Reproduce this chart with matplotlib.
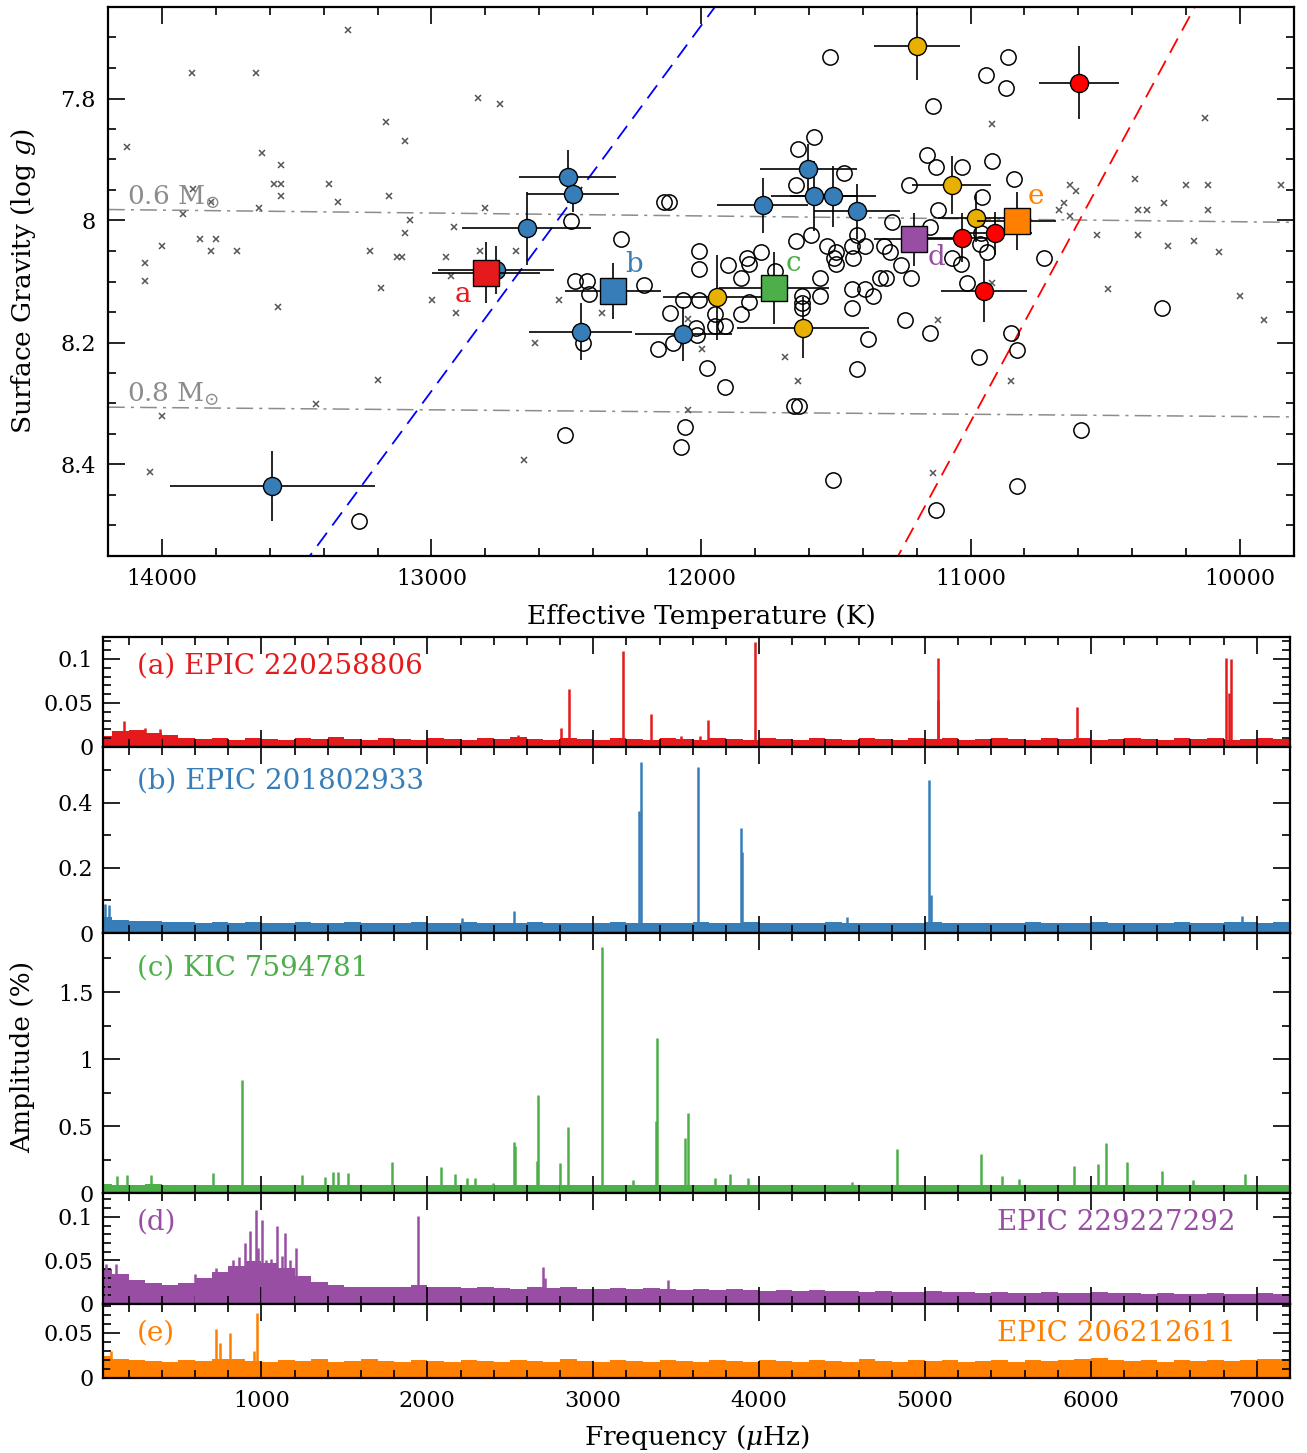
import numpy as np
import matplotlib
matplotlib.use("Agg")
import matplotlib.pyplot as plt
from matplotlib.ticker import MultipleLocator, FuncFormatter

plt.rcParams['font.family'] = ['DejaVu Serif']
plt.rcParams['mathtext.fontset'] = 'dejavuserif'

# ---------------- top panel: Teff / log g ----------------
gray_teff = [13309, 13890, 13650, 12829, 12746, 13169, 13099, 14130, 13629, 13560,
             13583, 13560, 13379, 13560, 13157, 13883, 13819, 13347, 13640, 12800,
             13921, 13079, 12917, 13099, 13859, 13800, 14001, 13819, 13721, 13229,
             12819, 12687, 14061, 12947, 13129, 13109, 14061, 12929, 13187, 12997,
             12909, 12527, 12367, 12617, 13570, 13199, 13430, 14001, 14043, 12657,
             12047, 12047, 11997, 10919, 10130, 10391, 10630, 10610, 10201, 10120,
             9850, 10652, 10672, 10630, 10378, 10347, 10281, 10120, 10530, 10378,
             10269, 10170, 10080, 10490, 10000, 9910, 10919, 11120, 11690, 11640,
             10851, 11141]
gray_logg = [7.688, 7.759, 7.759, 7.799, 7.809, 7.839, 7.869, 7.879, 7.889, 7.909,
             7.940, 7.940, 7.940, 7.960, 7.960, 7.948, 7.969, 7.970, 7.979, 7.980,
             7.990, 8.000, 8.011, 8.021, 8.031, 8.031, 8.041, 8.050, 8.050, 8.050,
             8.050, 8.050, 8.070, 8.060, 8.060, 8.060, 8.100, 8.091, 8.110, 8.131,
             8.151, 8.131, 8.151, 8.201, 8.141, 8.261, 8.301, 8.321, 8.412, 8.392,
             8.161, 8.311, 8.211, 7.842, 7.832, 7.932, 7.942, 7.952, 7.942, 7.942,
             7.942, 7.972, 7.982, 7.992, 7.982, 7.982, 7.972, 7.982, 8.023, 8.023,
             8.042, 8.033, 8.052, 8.112, 8.123, 8.163, 8.102, 8.163, 8.223, 8.263,
             8.263, 8.414]

open_teff = [13269, 12504, 12137, 12119, 12483, 12297, 12469, 12423, 12414, 12211,
             12009, 12009, 12066, 12009, 12114, 12019, 12014, 12159, 12061, 12076,
             11976, 12437, 12104, 11521, 10860, 10942, 10869, 11141, 11580, 11640,
             11470, 11649, 11161, 11129, 11032, 10922, 10840, 11229, 10958, 11120,
             11290, 11151, 10961, 10729, 11591, 11421, 11649, 11532, 11439, 11390,
             11320, 11498, 11506, 11498, 11436, 11297, 11259, 11220, 11069, 11035,
             10939, 10964, 11012, 11900, 11830, 11822, 11779, 11850, 11727, 11560,
             11560, 11625, 11625, 11625, 11439, 11390, 11362, 11439, 11336, 11313,
             11822, 11850, 11949, 11949, 11912, 11912, 11656, 11637, 11382, 11421,
             11242, 11151, 10849, 10829, 10970, 11510, 10829, 11130, 10590, 10290]
open_logg = [8.492, 8.351, 7.970, 7.970, 8.001, 8.031, 8.100, 8.100, 8.121, 8.106,
             8.050, 8.079, 8.131, 8.131, 8.151, 8.176, 8.187, 8.211, 8.339, 8.371,
             8.241, 8.201, 8.201, 7.732, 7.732, 7.762, 7.782, 7.812, 7.863, 7.882,
             7.922, 7.942, 7.892, 7.912, 7.912, 7.902, 7.932, 7.942, 7.961, 7.982,
             8.002, 8.011, 8.020, 8.062, 8.023, 8.023, 8.033, 8.042, 8.042, 8.042,
             8.042, 8.052, 8.061, 8.072, 8.062, 8.052, 8.073, 8.094, 8.061, 8.072,
             8.052, 8.038, 8.102, 8.073, 8.062, 8.072, 8.052, 8.094, 8.082, 8.094,
             8.123, 8.123, 8.135, 8.144, 8.112, 8.112, 8.123, 8.144, 8.094, 8.094,
             8.133, 8.153, 8.153, 8.173, 8.173, 8.273, 8.304, 8.304, 8.194, 8.244,
             8.163, 8.184, 8.184, 8.213, 8.224, 8.425, 8.435, 8.474, 8.344, 8.144]

blue_teff = [13590, 12494, 12476, 12647, 12759, 12447, 12066, 11771, 11602, 11580, 11510, 11421]
blue_logg = [8.435, 7.928, 7.956, 8.013, 8.081, 8.182, 8.186, 7.975, 7.915, 7.960, 7.960, 7.985]
blue_terr = [380, 180, 170, 240, 215, 190, 180, 168, 180, 160, 160, 160]
blue_gerr = [0.057, 0.043, 0.030, 0.060, 0.040, 0.047, 0.045, 0.045, 0.040, 0.057, 0.050, 0.045]

gold_teff = [11200, 11070, 10981, 11941, 11622]
gold_logg = [7.714, 7.942, 7.996, 8.126, 8.176]
gold_terr = [160, 147, 140, 200, 245]
gold_gerr = [0.055, 0.047, 0.040, 0.070, 0.050]

red_teff = [10599, 11030, 10911, 10950]
red_logg = [7.774, 8.028, 8.021, 8.116]
red_terr = [148, 150, 140, 158]
red_gerr = [0.060, 0.040, 0.035, 0.051]

sq_teff = [12797, 12326, 11730, 11211, 10829]
sq_logg = [8.086, 8.115, 8.110, 8.031, 8.001]
sq_terr = [200, 178, 205, 147, 147]
sq_gerr = [0.050, 0.046, 0.059, 0.043, 0.047]
sq_names = ['a', 'b', 'c', 'd', 'e']
sq_colors = ['#e41a1c', '#377eb8', '#4daf4a', '#984ea3', '#ff7f00']
sq_lab_teff = [12883, 12247, 11656, 11127, 10757]
sq_lab_logg = [8.121, 8.072, 8.070, 8.061, 7.960]

blue_edge_teff = [13535, 11865]
blue_edge_logg = [8.60, 7.60]
red_edge_teff = [11330, 10107]
red_edge_logg = [8.60, 7.60]
track_teff = [14200, 9800]
track06_logg = [7.982, 8.003]
track08_logg = [8.306, 8.322]

# ---------------- bottom panels: periodograms ----------------
# noise floor in 100 muHz bins (edges 0, 100, ..., 7200)
noise_edges = np.arange(0, 7300, 100)
a_noise = [0.013, 0.018, 0.019, 0.016, 0.014, 0.010, 0.009, 0.010, 0.008, 0.010,
           0.009, 0.008, 0.010, 0.009, 0.011, 0.009, 0.008, 0.010, 0.009, 0.008,
           0.010, 0.009, 0.008, 0.010, 0.009, 0.011, 0.009, 0.008, 0.010, 0.009,
           0.008, 0.010, 0.009, 0.008, 0.010, 0.009, 0.008, 0.010, 0.009, 0.008,
           0.010, 0.009, 0.008, 0.010, 0.009, 0.008, 0.010, 0.009, 0.008, 0.010,
           0.009, 0.010, 0.008, 0.009, 0.010, 0.009, 0.008, 0.010, 0.009, 0.010,
           0.008, 0.009, 0.010, 0.009, 0.008, 0.010, 0.009, 0.010, 0.008, 0.009,
           0.010, 0.009]
b_noise = [0.050, 0.040, 0.037, 0.036, 0.034, 0.034, 0.032, 0.034, 0.031, 0.033,
           0.031, 0.032, 0.034, 0.031, 0.030, 0.033, 0.032, 0.030, 0.032, 0.033,
           0.030, 0.032, 0.034, 0.031, 0.032, 0.030, 0.033, 0.032, 0.030, 0.032,
           0.030, 0.033, 0.032, 0.030, 0.032, 0.031, 0.033, 0.030, 0.031, 0.033,
           0.030, 0.032, 0.031, 0.030, 0.033, 0.031, 0.030, 0.032, 0.031, 0.030,
           0.033, 0.031, 0.030, 0.032, 0.031, 0.030, 0.033, 0.031, 0.032, 0.030,
           0.033, 0.031, 0.030, 0.032, 0.031, 0.033, 0.030, 0.031, 0.033, 0.034,
           0.032, 0.033]
c_noise = [0.068, 0.065, 0.063, 0.066, 0.062, 0.064, 0.061, 0.063, 0.064, 0.060,
           0.063, 0.061, 0.060, 0.063, 0.064, 0.061, 0.060, 0.063, 0.062, 0.060,
           0.064, 0.060, 0.062, 0.061, 0.063, 0.060, 0.061, 0.063, 0.060, 0.061,
           0.063, 0.060, 0.061, 0.063, 0.060, 0.059, 0.062, 0.061, 0.059, 0.062,
           0.059, 0.061, 0.060, 0.059, 0.062, 0.060, 0.059, 0.062, 0.060, 0.059,
           0.062, 0.059, 0.060, 0.062, 0.059, 0.060, 0.062, 0.059, 0.060, 0.062,
           0.059, 0.060, 0.062, 0.059, 0.060, 0.062, 0.059, 0.060, 0.062, 0.059,
           0.060, 0.062]
d_noise = [0.040, 0.034, 0.027, 0.024, 0.022, 0.024, 0.030, 0.037, 0.044, 0.049,
           0.047, 0.041, 0.032, 0.025, 0.022, 0.020, 0.019, 0.019, 0.020, 0.022,
           0.019, 0.020, 0.018, 0.019, 0.018, 0.017, 0.019, 0.018, 0.019, 0.017,
           0.017, 0.018, 0.017, 0.018, 0.017, 0.016, 0.017, 0.016, 0.017, 0.016,
           0.015, 0.016, 0.015, 0.016, 0.015, 0.015, 0.014, 0.015, 0.014, 0.014,
           0.015, 0.014, 0.014, 0.013, 0.014, 0.013, 0.013, 0.014, 0.013, 0.013,
           0.014, 0.013, 0.013, 0.012, 0.013, 0.012, 0.012, 0.013, 0.012, 0.012,
           0.013, 0.012]
e_noise = [0.024, 0.021, 0.020, 0.019, 0.018, 0.020, 0.019, 0.021, 0.021, 0.019,
           0.018, 0.020, 0.019, 0.021, 0.018, 0.019, 0.021, 0.019, 0.018, 0.020,
           0.019, 0.018, 0.020, 0.019, 0.018, 0.020, 0.019, 0.018, 0.021, 0.019,
           0.018, 0.020, 0.019, 0.018, 0.020, 0.019, 0.018, 0.020, 0.019, 0.018,
           0.020, 0.019, 0.018, 0.020, 0.019, 0.018, 0.021, 0.019, 0.018, 0.020,
           0.019, 0.020, 0.018, 0.019, 0.020, 0.018, 0.020, 0.019, 0.020, 0.021,
           0.022, 0.020, 0.019, 0.020, 0.018, 0.020, 0.019, 0.020, 0.019, 0.020,
           0.021, 0.021]

a_pk_f = [110, 170, 300, 390, 2545, 2806, 2856, 3178, 3347, 3528, 3645, 3691, 3974,
          5077, 5080, 5919, 6816, 6830, 6843]
a_pk_a = [0.017, 0.029, 0.022, 0.020, 0.014, 0.022, 0.066, 0.109, 0.037, 0.013, 0.013,
          0.031, 0.119, 0.053, 0.101, 0.045, 0.101, 0.061, 0.0996]
b_pk_f = [60, 80, 2210, 2521, 3277, 3289, 3630, 3888, 3897, 4527, 5025, 5034, 6908]
b_pk_a = [0.090, 0.085, 0.045, 0.067, 0.374, 0.525, 0.510, 0.322, 0.248, 0.049,
          0.472, 0.118, 0.051]
c_pk_f = [129, 191, 336, 708, 885, 1245, 1382, 1433, 1463, 1523, 1787, 2083, 2164,
          2237, 2288, 2398, 2522, 2530, 2660, 2668, 2799, 2850, 3051, 3237, 3376, 3387,
          3551, 3569, 3734, 3825, 3931, 4562, 4832, 5336, 5467, 5569, 5901, 6044,
          6091, 6219, 6427, 6617, 6927]
c_pk_a = [0.13, 0.137, 0.137, 0.154, 0.846, 0.137, 0.124, 0.16, 0.16, 0.149, 0.235,
          0.195, 0.144, 0.117, 0.117, 0.08, 0.38, 0.356, 0.24, 0.736, 0.229, 0.497,
          1.833, 0.10, 0.54, 1.159, 0.415, 0.595, 0.117, 0.147, 0.117, 0.087, 0.331,
          0.296, 0.129, 0.104, 0.20, 0.216, 0.378, 0.236, 0.169, 0.10, 0.144]
d_pk_f = [64, 125, 598, 728, 829, 865, 903, 934, 966, 980, 1004, 1030, 1060, 1091,
          1121, 1145, 1171, 1207, 1946, 2697, 2710, 3451]
d_pk_a = [0.046, 0.046, 0.034, 0.041, 0.051, 0.054, 0.070, 0.084, 0.108, 0.064,
          0.096, 0.050, 0.052, 0.090, 0.055, 0.082, 0.050, 0.064, 0.101, 0.042,
          0.030, 0.028]
e_pk_f = [91, 726, 750, 809, 957, 973]
e_pk_a = [0.030, 0.054, 0.039, 0.050, 0.030, 0.072]

panels = [
    ('(a) EPIC 220258806', None, '#e41a1c', a_noise, a_pk_f, a_pk_a, 0.125, 0.05, 0.01),
    ('(b) EPIC 201802933', None, '#377eb8', b_noise, b_pk_f, b_pk_a, 0.572, 0.2, 0.1),
    ('(c) KIC 7594781', None, '#4daf4a', c_noise, c_pk_f, c_pk_a, 1.94, 0.5, 0.25),
    ('(d)', 'EPIC 229227292', '#984ea3', d_noise, d_pk_f, d_pk_a, 0.127, 0.05, 0.01),
    ('(e)', 'EPIC 206212611', '#ff7f00', e_noise, e_pk_f, e_pk_a, 0.082, 0.05, 0.01),
]
label_y = [0.736, 0.817, 0.866, 0.74, 0.606]

W, H = 1307, 1453
fig = plt.figure(figsize=(W / 100, H / 100), dpi=100)

def frac(x0, y0, x1, y1):
    return [x0 / W, 1 - y1 / H, (x1 - x0) / W, (y1 - y0) / H]

fmt = FuncFormatter(lambda v, _: f'{v:g}')

def style(ax):
    ax.tick_params(which='both', direction='in', top=True, right=True, width=1.2,
                   labelsize=16, pad=9)
    ax.tick_params(which='major', length=12)
    ax.tick_params(which='minor', length=5.5)
    for s in ax.spines.values():
        s.set_linewidth(1.6)

ax = fig.add_axes(frac(108, 7, 1294, 556))
ax.plot(track_teff, track06_logg, color='#8c8c8c', lw=1.1, dashes=(11, 4, 2, 4), zorder=1)
ax.plot(track_teff, track08_logg, color='#8c8c8c', lw=1.1, dashes=(11, 4, 2, 4), zorder=1)
ax.plot(blue_edge_teff, blue_edge_logg, color='#0000ff', lw=1.3, dashes=(9, 5), zorder=1)
ax.plot(red_edge_teff, red_edge_logg, color='#ff0000', lw=1.3, dashes=(9, 5), zorder=1)
ax.plot(gray_teff, gray_logg, 'x', color='#555555', ms=5, mew=1.1, zorder=2)
ax.plot(open_teff, open_logg, 'o', mfc='none', mec='k', ms=11, mew=1.1, zorder=3)
for t, g, te, ge, col in [(blue_teff, blue_logg, blue_terr, blue_gerr, '#377eb8'),
                          (gold_teff, gold_logg, gold_terr, gold_gerr, '#e8b000'),
                          (red_teff, red_logg, red_terr, red_gerr, '#ff0000')]:
    ax.errorbar(t, g, xerr=te, yerr=ge, fmt='none', ecolor='k', elinewidth=1.2,
                capsize=0, zorder=4)
    ax.plot(t, g, 'o', mfc=col, mec='k', ms=13, mew=1.0, zorder=5)
ax.errorbar(sq_teff, sq_logg, xerr=sq_terr, yerr=sq_gerr, fmt='none', ecolor='k',
            elinewidth=1.2, capsize=0, zorder=6)
for t, g, col, nm, lt, lg in zip(sq_teff, sq_logg, sq_colors, sq_names,
                                 sq_lab_teff, sq_lab_logg):
    ax.plot(t, g, 's', mfc=col, mec='k', ms=19, mew=1.0, zorder=7)
    ax.text(lt, lg, nm, color=col, fontsize=20, ha='center', va='center', zorder=8)
ax.text(14128, 7.975, r'0.6 M$_{\odot}$', color='#8c8c8c', fontsize=19, va='baseline')
ax.text(14128, 8.298, r'0.8 M$_{\odot}$', color='#8c8c8c', fontsize=19, va='baseline')
ax.set_xlim(14200, 9800)
ax.set_ylim(8.55, 7.65)
ax.xaxis.set_major_locator(MultipleLocator(1000))
ax.xaxis.set_minor_locator(MultipleLocator(200))
ax.yaxis.set_major_locator(MultipleLocator(0.2))
ax.yaxis.set_minor_locator(MultipleLocator(0.05))
ax.yaxis.set_major_formatter(fmt)
style(ax)
ax.set_xlabel('Effective Temperature (K)', fontsize=19)
ax.set_ylabel(r'Surface Gravity (log $g$)', fontsize=19)
ax.xaxis.set_label_coords(0.5, -0.088)
ax.yaxis.set_label_coords(-0.059, 0.5)

bounds = [(637, 747), (747, 933), (933, 1193.3), (1193.3, 1304), (1304, 1377.7)]
axes = []
for (y0, y1), (lab, rlab, col, noise, pf, pa, ytop, maj, mnr), ly in zip(bounds, panels, label_y):
    bx = fig.add_axes(frac(103, y0, 1290, y1))
    bx.stairs(noise, noise_edges, baseline=0, fill=True, color=col, lw=0)
    bx.vlines(pf, 0, pa, color=col, lw=1.8)
    bx.set_xlim(45, 7200)
    bx.set_ylim(0, ytop)
    bx.xaxis.set_major_locator(MultipleLocator(1000))
    bx.xaxis.set_minor_locator(MultipleLocator(200))
    bx.yaxis.set_major_locator(MultipleLocator(maj))
    bx.yaxis.set_minor_locator(MultipleLocator(mnr))
    bx.yaxis.set_major_formatter(fmt)
    style(bx)
    bx.tick_params(axis='y', pad=7)
    bx.text(0.0286, ly, lab, color=col, fontsize=20, transform=bx.transAxes, va='center')
    if rlab:
        bx.text(0.954, ly, rlab, color=col, fontsize=20, transform=bx.transAxes,
                va='center', ha='right')
    axes.append(bx)
for bx in axes[:-1]:
    bx.tick_params(labelbottom=False)
axes[-1].set_xlabel(r'Frequency ($\mu$Hz)', fontsize=19)
axes[-1].xaxis.set_label_coords(0.5, -0.62)
fig.text(23 / W, 1 - 1057 / H, 'Amplitude (%)', rotation=90, fontsize=19,
         ha='center', va='center')

fig.savefig('out.png', dpi=100)
